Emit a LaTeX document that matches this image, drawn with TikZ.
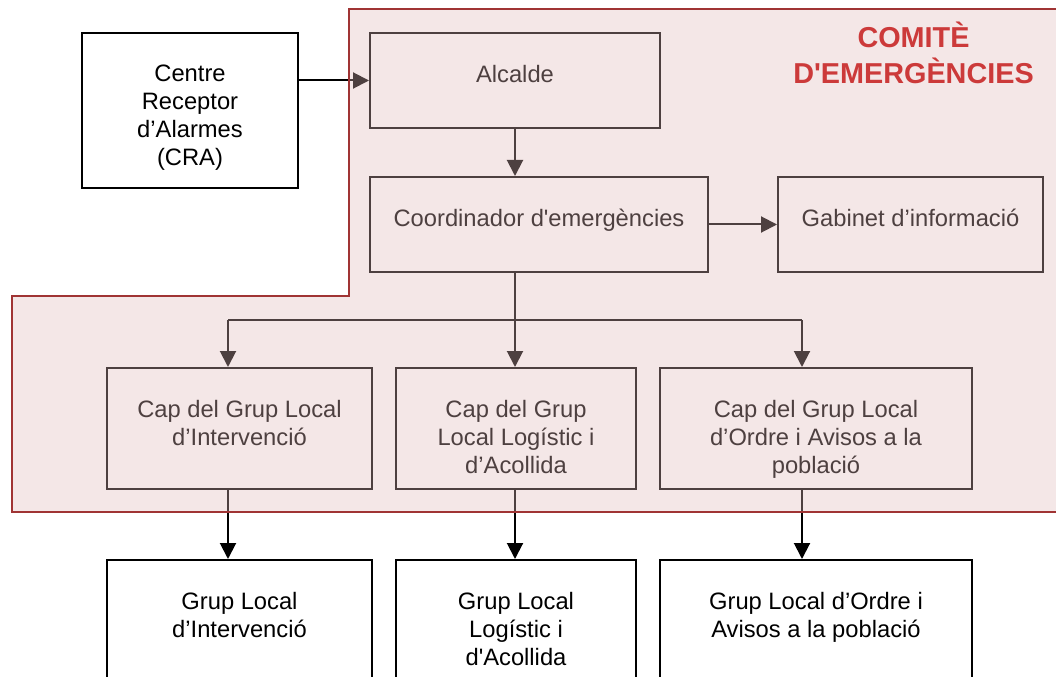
\documentclass[tikz,border=0pt]{standalone}
\usepackage{fontspec}
\newfontfamily\diagfont{Liberation Sans}
\usetikzlibrary{arrows.meta,calc,fit}

\definecolor{tintred}{RGB}{223,185,185}
\definecolor{edgered}{RGB}{160,52,52}
\definecolor{titlered}{RGB}{204,58,58}

\tikzset{
  box/.style={draw=black, line width=1.5pt, inner sep=0pt},
  txt/.style={anchor=north, align=center, inner sep=0pt, font=\diagfont\fontsize{17.8}{21}\selectfont},
  arr/.style={line width=1.5pt, -{Triangle[length=12pt,width=12pt]}},
  ttl/.style={anchor=north, align=center, inner sep=0pt, text=titlered, font=\diagfont\bfseries\fontsize{21.6}{27}\selectfont},
}

\begin{document}
\begin{tikzpicture}[x=0.75pt,y=0.75pt,yscale=-1]
\useasboundingbox (0,0) rectangle (1056,677);

%Boxes
\node[box, fit={(82,33) (298,188)}] (cra) {};
\node[box, fit={(370,33) (660,128)}] (alc) {};
\node[box, fit={(370,177) (708,272)}] (coord) {};
\node[box, fit={(778,177) (1043,272)}] (gab) {};
\node[box, fit={(107,368) (372,489)}] (cap1) {};
\node[box, fit={(396,368) (636,489)}] (cap2) {};
\node[box, fit={(660,368) (972,489)}] (cap3) {};
\node[box, fit={(107,560) (372,700)}] (grp1) {};
\node[box, fit={(396,560) (636,700)}] (grp2) {};
\node[box, fit={(660,560) (972,700)}] (grp3) {};

%Branch points
\coordinate (b1) at (228,320);
\coordinate (b2) at (515,320);
\coordinate (b3) at (802,320);

%Straight Lines
\draw[arr] (alc.west -| cra.east) -- (alc.west);
\draw[arr] (alc.south) -- (alc.south |- coord.north);
\draw[arr] (coord.east) -- (gab.west);
\draw[line width=1.5pt] (coord.south -| b2) -- (b2);
\draw[line width=1.5pt] (b1) -- (b3);
\foreach \i in {1,2,3} {
  \draw[arr] (b\i) -- (b\i |- cap\i.north);
  \draw[arr] (b\i |- cap\i.south) -- (b\i |- grp\i.north);
}

% Text Node
\node[txt] (crat) at ($(cra.north)+(0,33)$) {Centre\\Receptor\\d’Alarmes\\(CRA)};
\node[txt] (alct) at ($(alc.north)+(0,33)$) {Alcalde};
\node[txt] (coordt) at ($(coord.north)+(0,33)$) {Coordinador d'emergències};
\node[txt] (gabt) at ($(gab.north)+(0,33)$) {Gabinet d’informació};
\node[txt] (cap1t) at ($(cap1.north)+(0,33)$) {Cap del Grup Local\\d’Intervenció};
\node[txt] (cap2t) at ($(cap2.north)+(0,33)$) {Cap del Grup\\Local Logístic i\\d’Acollida};
\node[txt] (cap3t) at ($(cap3.north)+(0,33)$) {Cap del Grup Local\\d’Ordre i Avisos a la\\població};
\node[txt] (grp1t) at ($(grp1.north)+(0,33)$) {Grup Local\\d’Intervenció};
\node[txt] (grp2t) at ($(grp2.north)+(0,33)$) {Grup Local\\Logístic i\\d'Acollida};
\node[txt] (grp3t) at ($(grp3.north)+(0,33)$) {Grup Local d’Ordre i\\Avisos a la població};

%Committee area
\fill[tintred, fill opacity=0.35] (349,9) -- (1070,9) -- (1070,512) -- (12,512) -- (12,296) -- (349,296) -- cycle;
\draw[edgered, line width=1.5pt] (349,9) -- (1070,9) -- (1070,512) -- (12,512) -- (12,296) -- (349,296) -- cycle;

% Title Node
\node[ttl] (title) at (913.5,22) {COMITÈ\\D'EMERGÈNCIES};

\end{tikzpicture}
\end{document}
